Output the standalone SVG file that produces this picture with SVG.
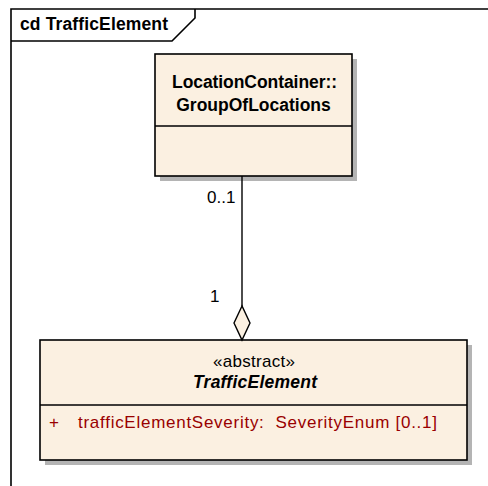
<svg xmlns="http://www.w3.org/2000/svg" width="488" height="486" viewBox="0 0 488 486">
<style>
.frame{fill:none;stroke:#000;stroke-width:1.6}
.box{fill:#FBF0E1;stroke:#000;stroke-width:1.6}
.shadow{fill:#B4B4B4}
.div{stroke:#000;stroke-width:1.4}
.t{font-family:"Liberation Sans",Arial,sans-serif;fill:#000}
.b{font-weight:bold;font-size:17.5px}
.r{font-size:17px}
.attr{font-family:"Liberation Sans",Arial,sans-serif;font-size:17px;fill:#990000}
.conn{stroke:#000;stroke-width:1.4;fill:none}
</style>
<rect x="0" y="0" width="488" height="486" fill="#fff"/>
<g id="frame">
<path class="frame" d="M11,500 L11,9 L500,9"/>
<path class="frame" d="M11,41 L172,41 L195,18 L195,9"/>
<text class="t b" x="20" y="30" textLength="148" lengthAdjust="spacing">cd TrafficElement</text>
</g>
<g id="GroupOfLocations">
<rect class="shadow" x="160" y="59" width="197" height="122"/>
<rect class="box" x="155" y="54" width="197" height="122"/>
<line class="div" x1="155" y1="126" x2="352" y2="126"/>
<text class="t b" x="172" y="88" textLength="165" lengthAdjust="spacing">LocationContainer::</text>
<text class="t b" x="253.5" y="111" text-anchor="middle">GroupOfLocations</text>
</g>
<g id="TrafficElement">
<rect class="shadow" x="45" y="345" width="427" height="120"/>
<rect class="box" x="40" y="340" width="427" height="120"/>
<line class="div" x1="40" y1="405" x2="467" y2="405"/>
<text class="t r" x="213" y="367" textLength="82" lengthAdjust="spacing">«abstract»</text>
<text class="t b" x="193" y="388" font-style="italic" textLength="124" lengthAdjust="spacing">TrafficElement</text>
<text class="attr" x="49" y="428">+</text>
<text class="attr" x="78" y="428" textLength="359" lengthAdjust="spacing">trafficElementSeverity:&#160; SeverityEnum [0..1]</text>
</g>
<g id="connectors">
<line class="conn" x1="242" y1="176" x2="242" y2="306"/>
<polygon points="242,306 234,323 242,340 250,323" fill="#FBF0E1" stroke="#000" stroke-width="1.4"/>
<text class="t r" x="207" y="203">0..1</text>
<text class="t r" x="210" y="302">1</text>
</g>
</svg>
